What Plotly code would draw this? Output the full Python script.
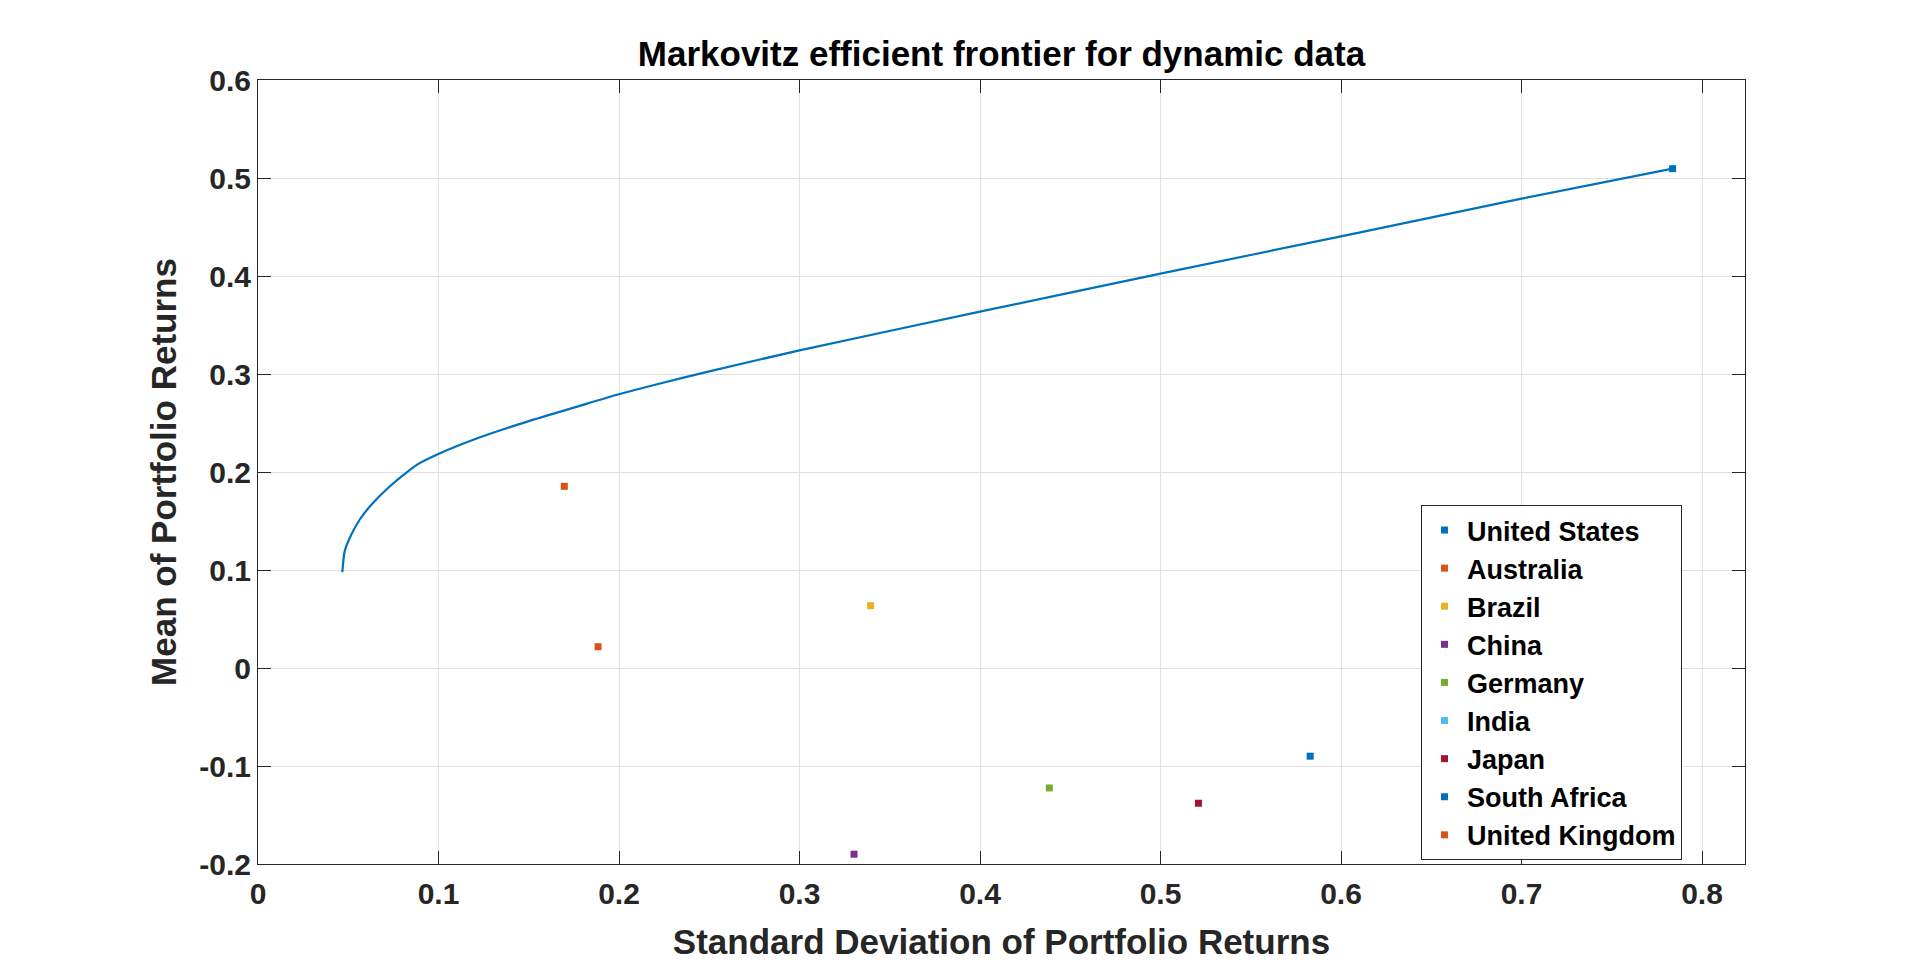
import plotly.graph_objects as go

# efficient frontier (std dev, mean)
frontier_std = [0.0467, 0.048, 0.0508, 0.0563, 0.0628, 0.072, 0.0831, 0.0886, 0.0999,
                0.1219, 0.1496, 0.1773, 0.2004, 0.2216, 0.25, 0.3, 0.4, 0.5, 0.6, 0.7, 0.7837]
frontier_mean = [0.0977, 0.119, 0.1327, 0.1513, 0.1666, 0.1837, 0.2007, 0.208, 0.2184,
                 0.2347, 0.2517, 0.267, 0.2796, 0.2898, 0.3027, 0.3241, 0.3636, 0.4024, 0.4405, 0.4789, 0.5095]

# single-country portfolios (India is not visible inside the axes)
countries = ["United States", "Australia", "Brazil", "China", "Germany",
             "India", "Japan", "South Africa", "United Kingdom"]
country_std = [0.7837, 0.1697, 0.3394, 0.3302, 0.4384, None, 0.521, 0.5829, 0.1884]
country_mean = [0.5095, 0.1854, 0.0636, -0.190, -0.1224, None, -0.138, -0.090, 0.0217]
country_colors = ["#0072BD", "#D95319", "#EDB120", "#7E2F8E", "#77AC30",
                  "#4DBEEE", "#A2142F", "#0072BD", "#D95319"]

x_ticks = [0, 0.1, 0.2, 0.3, 0.4, 0.5, 0.6, 0.7, 0.8]
x_ticktext = ["0", "0.1", "0.2", "0.3", "0.4", "0.5", "0.6", "0.7", "0.8"]
y_ticks = [-0.2, -0.1, 0, 0.1, 0.2, 0.3, 0.4, 0.5, 0.6]
y_ticktext = ["-0.2", "-0.1", "0", "0.1", "0.2", "0.3", "0.4", "0.5", "0.6"]

font = "Liberation Sans, Arial, Helvetica, sans-serif"
axis_color = "#262626"

fig = go.Figure()

# frontier line
fig.add_trace(go.Scatter(
    x=frontier_std, y=frontier_mean, mode="lines",
    line=dict(color="#0072BD", width=2.2, shape="spline", smoothing=0.6),
    showlegend=False, hoverinfo="skip",
))

# one marker per country
for name, sx, my, col in zip(countries, country_std, country_mean, country_colors):
    fig.add_trace(go.Scatter(
        x=[sx], y=[my], mode="markers", name=name,
        marker=dict(symbol="square", size=7, color=col),
    ))

axis_common = dict(
    showline=True, linecolor=axis_color, linewidth=1, mirror="ticks",
    ticks="inside", ticklen=13, tickcolor=axis_color, tickwidth=1,
    showgrid=True, gridcolor="#e0e0e0", gridwidth=1, zeroline=False,
    tickfont=dict(family=font, size=30, color=axis_color, weight="bold"),
)

fig.update_layout(
    width=1920, height=963,
    margin=dict(l=250, r=183, t=72, b=107),
    paper_bgcolor="white", plot_bgcolor="white",
    title=dict(
        text="<b>Markovitz efficient frontier for dynamic data</b>",
        font=dict(family=font, size=35, color="black"),
        x=(250 + 1737) / 2 / 1920, xanchor="center",
        y=1 - 46 / 963, yanchor="middle",
    ),
    xaxis=dict(
        range=[0, 0.8238], tickvals=x_ticks, ticktext=x_ticktext,
        ticklabelstandoff=3,
        title=dict(text="<b>Standard Deviation of Portfolio Returns</b>",
                   font=dict(family=font, size=35, color=axis_color), standoff=20),
        **axis_common,
    ),
    yaxis=dict(
        range=[-0.2, 0.6], tickvals=y_ticks, ticktext=y_ticktext,
        title=dict(text="<b>Mean of Portfolio Returns</b>",
                   font=dict(family=font, size=35, color=axis_color), standoff=12),
        **axis_common,
    ),
    legend=dict(
        x=(1413 - 250) / 1487, y=(856 - 497) / 784,
        xanchor="left", yanchor="top",
        bgcolor="white", bordercolor=axis_color, borderwidth=1,
        font=dict(family=font, size=27, color="black", weight="bold"),
        itemwidth=35, tracegroupgap=0,
    ),
)

fig.write_html("out.html")
